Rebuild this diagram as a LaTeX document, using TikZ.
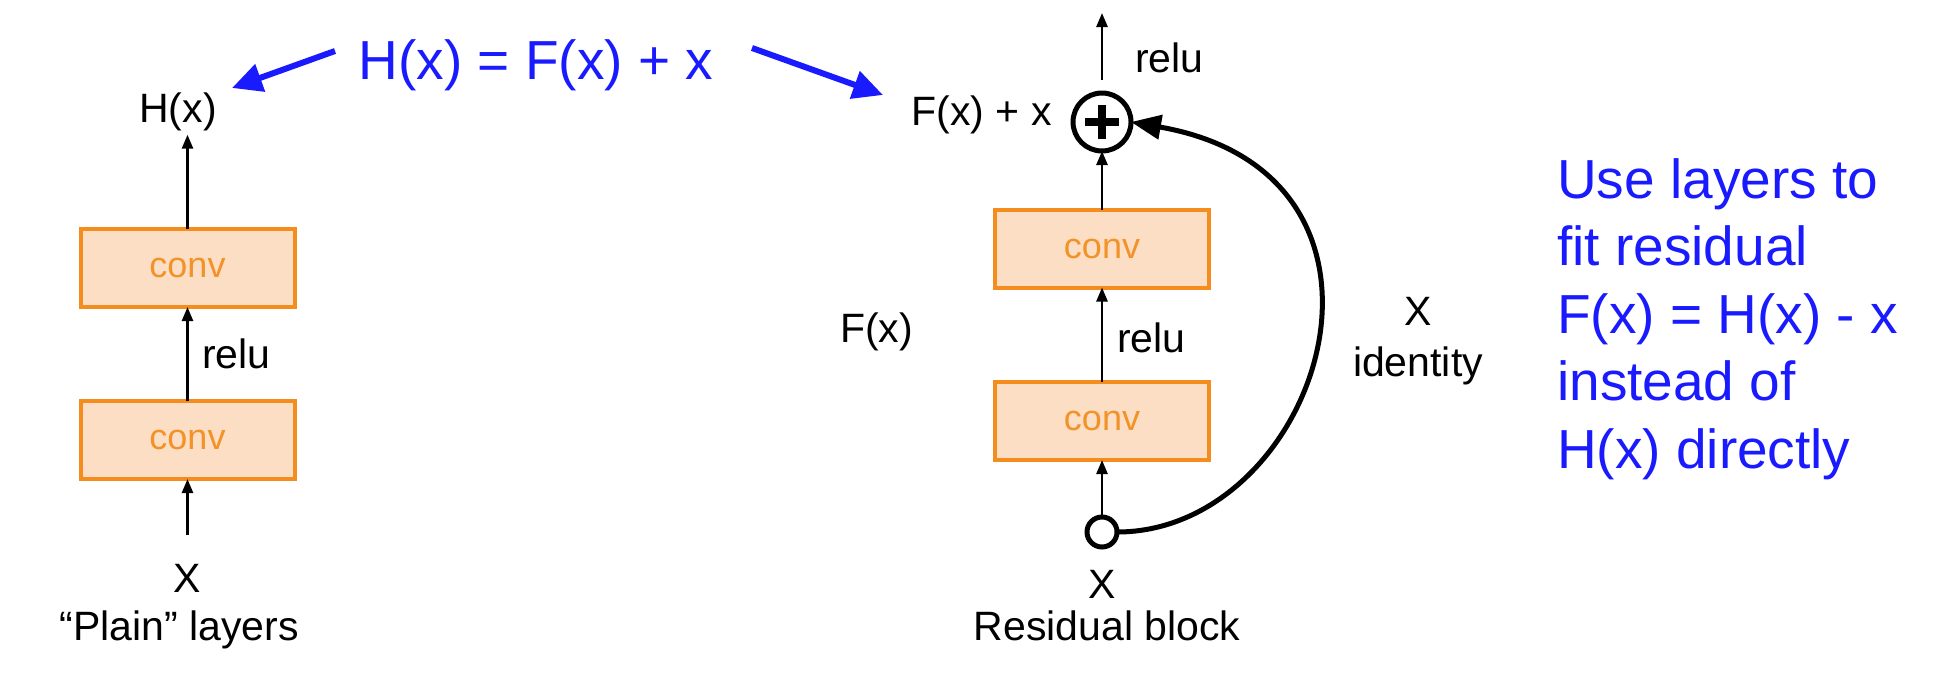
\documentclass[tikz,border=0pt]{standalone}
\usepackage{fontspec}
\setmainfont{Liberation Sans}
\usetikzlibrary{arrows.meta}
\definecolor{blueT}{RGB}{26,26,255}
\definecolor{orangeS}{RGB}{245,140,30}
\definecolor{peach}{RGB}{251,222,196}
\definecolor{convtext}{RGB}{243,146,40}
\tikzset{
  convbox/.style={draw=orangeS, fill=peach, line width=4pt, minimum width=214pt, minimum height=78pt, inner sep=0pt, outer sep=0pt, text=convtext, font=\fontsize{36}{43}\selectfont},
  lbl/.style={inner sep=0pt, font=\fontsize{41}{49}\selectfont},
  bluetxt/.style={inner sep=0pt, text=blueT, font=\fontsize{55}{67.5}\selectfont},
  thinarrow/.style={line width=2.5pt, -{Triangle[length=14pt,width=11pt]}},
  bluearrow/.style={draw=blueT, line width=6pt, -{Triangle[length=30pt,width=28pt]}},
  skiparrow/.style={line width=5pt, -{Triangle[length=30pt,width=24pt]}},
}
\begin{document}
\begin{tikzpicture}[x=1pt,y=-1pt]
\useasboundingbox (0,0) rectangle (1934,678);
% title
\node[bluetxt, anchor=base] (title) at (536,79) {H(x) = F(x) + x};
\coordinate (la1) at (335,51);
\coordinate (la2) at (232,88);
\coordinate (ra1) at (752,48);
\coordinate (ra2) at (883,95);
\draw[bluearrow] (la1) -- (la2);
\draw[bluearrow] (ra1) -- (ra2);
% plain layers
\node[lbl, anchor=base, inner sep=4pt] (Hx) at (178,122) {H(x)};
\node[convbox] (box1) at (187.5,268) {conv};
\node[convbox] (box2) at (187.5,440) {conv};
\node[lbl, anchor=base west] (relu1) at (202,368) {relu};
\node[lbl, anchor=base] (X1) at (187,592) {X};
\node[lbl, anchor=base] (plain) at (179,640) {``Plain'' layers};
\coordinate (xl) at (187.5,535);
\draw[thinarrow] (box1.north) -- (box1.north |- Hx.south);
\draw[thinarrow] (box2.north) -- (box1.south);
\draw[thinarrow] (xl) -- (box2.south);
% residual block
\node[draw, circle, line width=5pt, minimum size=58pt, inner sep=0pt, outer sep=0pt] (plus) at (1102,122) {};
\draw[line width=8pt] ([xshift=-17pt]plus.center) -- ([xshift=17pt]plus.center);
\draw[line width=8pt] ([yshift=-17pt]plus.center) -- ([yshift=17pt]plus.center);
\node[convbox] (box3) at (1102,248.5) {conv};
\node[convbox] (box4) at (1102,421) {conv};
\node[draw, circle, line width=5pt, fill=white, minimum size=30pt, inner sep=0pt, outer sep=0pt] (xin) at (1102,532) {};
\coordinate (ptop) at (1102,80);
\coordinate (outtip) at (1102,13);
\draw[thinarrow] (ptop) -- (outtip);
\draw[thinarrow] (box3.north) -- (plus.south);
\draw[thinarrow] (box4.north) -- (box3.south);
\draw[thinarrow] (xin.north) -- (box4.south);
\draw[skiparrow] (xin.east) .. controls (1320,532) and (1435,175) .. (plus.east);
\node[lbl, anchor=base west] (relu2) at (1135,72) {relu};
\node[lbl, anchor=base east] (fxx) at (1052,125) {F(x) + x};
\node[lbl, anchor=base west] (relu3) at (1117,352) {relu};
\node[lbl, anchor=base west] (Fx) at (840,342) {F(x)};
\node[lbl, anchor=base] (X2) at (1102,598) {X};
\node[lbl, anchor=base] (resb) at (1107,640) {Residual block};
\node[lbl, anchor=base] (Xid) at (1418,325) {X};
\node[lbl, anchor=base] (ident) at (1418,376) {identity};
% right explanation
\node[bluetxt, anchor=base west, align=left] (expl) at (1557,468) {Use layers to\\fit residual\\F(x) = H(x) - x\\instead of\\H(x) directly};
\end{tikzpicture}
\end{document}
